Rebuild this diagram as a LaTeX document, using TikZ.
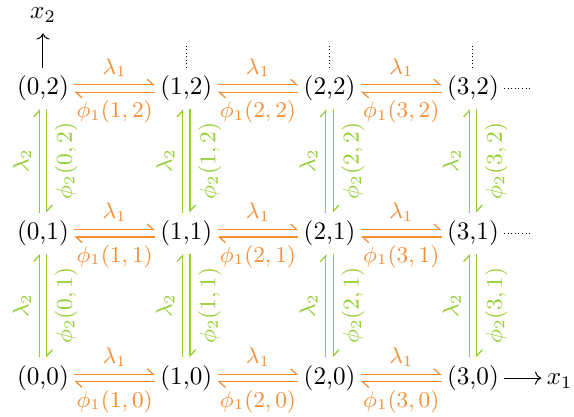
\documentclass[tikz,border=0pt]{standalone}
\usepackage{amsmath}
\usepackage{xcolor}
\usepackage{tikz}
\usetikzlibrary{arrows.meta,positioning}
\definecolor{naranja}{RGB}{246,142,52}
\definecolor{verde}{RGB}{146,206,48}

\begin{document}
\begin{tikzpicture}[
on grid,node distance=2.02cm and 2cm,
estado/.style={inner xsep=2pt,inner ysep=3pt,text height=0.75em,text depth=0.25em},
arpon/.style={-{Straight Barb[left,length=2.4pt,width=4.4pt]},line width=0.5pt},
eje/.style={-{Computer Modern Rightarrow},thin},
puntos/.style={densely dotted,thin},
lbl/.style={font=\small,inner sep=3pt}
]
\useasboundingbox (-0.60,-0.53) rectangle (7.41,5.276);

% estados
\node[estado] (n00) at (0,0) {(0,0)};
\node[estado,right=of n00] (n10) {(1,0)};
\node[estado,right=of n10] (n20) {(2,0)};
\node[estado,right=of n20] (n30) {(3,0)};
\node[estado,above=of n00] (n01) {(0,1)};
\node[estado,right=of n01] (n11) {(1,1)};
\node[estado,right=of n11] (n21) {(2,1)};
\node[estado,right=of n21] (n31) {(3,1)};
\node[estado,above=of n01] (n02) {(0,2)};
\node[estado,right=of n02] (n12) {(1,2)};
\node[estado,right=of n12] (n22) {(2,2)};
\node[estado,right=of n22] (n32) {(3,2)};

% ejes
\node[estado,above=1.06cm of n02] (x2) {$x_2$};
\node[estado,right=1.21cm of n30] (x1) {$x_1$};
\draw[eje] (n02) -- (x2);
\draw[eje] (n30) -- (x1);

% puntos suspensivos
\coordinate[above=0.6cm of n12] (p12);
\coordinate[above=0.6cm of n22] (p22);
\coordinate[above=0.6cm of n32] (p32);
\coordinate[right=0.82cm of n32] (q32);
\coordinate[right=0.82cm of n31] (q31);
\draw[puntos] (n12) -- (p12);
\draw[puntos] (n22) -- (p22);
\draw[puntos] (n32) -- (p32);
\draw[puntos] (n32) -- (q32);
\draw[puntos] (n31) -- (q31);

% transiciones en x1
\foreach \i/\k in {0/1,1/2,2/3}
  \foreach \j in {0,1,2} {
    \draw[arpon,naranja] ([yshift=1.5pt]n\i\j.east) -- ([yshift=1.5pt]n\k\j.west) node[lbl,midway,above] {$\lambda_1$};
    \draw[arpon,naranja] ([yshift=-1.5pt]n\k\j.west) -- ([yshift=-1.5pt]n\i\j.east) node[lbl,midway,below] {$\phi_1(\k,\j)$};
  }

% transiciones en x2
\foreach \j/\k in {0/1,1/2}
  \foreach \i in {0,1,2,3} {
    \draw[arpon,verde] ([xshift=-1.5pt]n\i\j.north) -- ([xshift=-1.5pt]n\i\k.south) node[lbl,midway,rotate=90,anchor=south] {$\lambda_2$};
    \draw[arpon,verde] ([xshift=1.5pt]n\i\k.south) -- ([xshift=1.5pt]n\i\j.north) node[lbl,midway,rotate=90,anchor=north] {$\phi_2(\i,\k)$};
  }
\end{tikzpicture}
\end{document}
